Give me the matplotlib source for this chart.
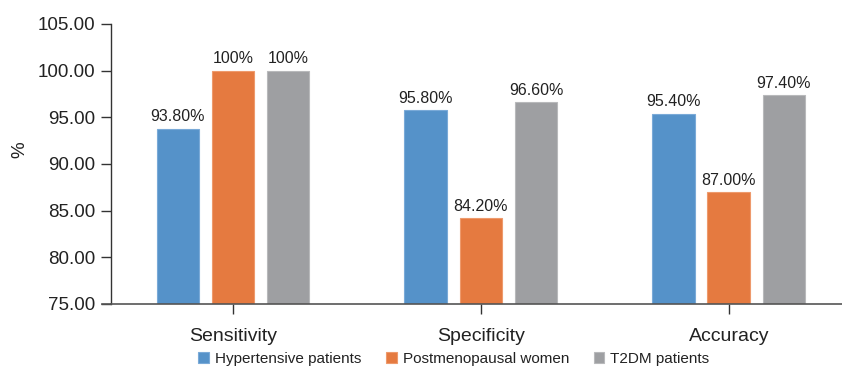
import matplotlib
matplotlib.use("Agg")
import matplotlib.pyplot as plt
import numpy as np
from matplotlib.lines import Line2D

plt.rcParams['font.family'] = ['Liberation Sans', 'DejaVu Sans']

categories = ["Sensitivity", "Specificity", "Accuracy"]
series_names = ["Hypertensive patients", "Postmenopausal women", "T2DM patients"]
hypertensive = [93.80, 95.80, 95.40]
postmenopausal = [100.0, 84.20, 87.00]
t2dm = [100.0, 96.60, 97.40]
label_text = [
    ["93.80%", "95.80%", "95.40%"],
    ["100%", "84.20%", "87.00%"],
    ["100%", "96.60%", "97.40%"],
]
yticks = [75, 80, 85, 90, 95, 100, 105]

colors = ["#5592C9", "#E57A40", "#9E9FA2"]
edges = ["#7AAAD8", "#EE9A6C", "#B8B9BB"]

fig = plt.figure(figsize=(8.42, 3.67), dpi=100)
ax = fig.add_axes([111 / 842, 63 / 367, 1 - 111 / 842, 280 / 367])

x = np.arange(len(categories))
width = 0.173
pitch = 0.222
all_series = [hypertensive, postmenopausal, t2dm]
for i, (vals, name) in enumerate(zip(all_series, series_names)):
    pos = x + (i - 1) * pitch
    bars = ax.bar(pos, vals, width=width, color=colors[i], edgecolor=edges[i],
                  linewidth=0.8, label=name, zorder=2)
    for b, v, t in zip(bars, vals, label_text[i]):
        ax.annotate(t, (b.get_x() + b.get_width() / 2, v), xytext=(0, 3),
                    textcoords="offset points", ha="center", va="bottom",
                    fontsize=11.5, color="#222222")

ax.set_ylim(75, 105)
ax.set_xlim(-0.492, 2.456)
ax.set_yticks(yticks)
ax.set_yticklabels([f"{v:.2f}" for v in yticks], fontsize=13.5, color="#222222")
ax.set_xticks(x)
ax.set_xticklabels(categories, fontsize=14, color="#222222")
ax.tick_params(axis="y", length=7, width=1, color="#333333", pad=4)
ax.tick_params(axis="x", length=7, width=1, color="#333333", pad=10)

# value-axis title
fig.text(20 / 842, 1 - 150 / 367, "%", rotation=90, ha="center", va="center",
         fontsize=13.5, color="#222222")

for s in ["top", "right"]:
    ax.spines[s].set_visible(False)
ax.spines["left"].set_color("#333333")
ax.spines["bottom"].set_color("#555555")
ax.spines["left"].set_linewidth(1)
ax.spines["bottom"].set_linewidth(1.2)

# short extension of the baseline to the left of the value axis
ax.add_line(Line2D([-9 / 731, 0], [0, 0], transform=ax.transAxes,
                   color="#555555", linewidth=1.2, clip_on=False))

handles, labels = ax.get_legend_handles_labels()
fig.legend(handles, labels, loc="center", bbox_to_anchor=(454 / 842, 8 / 367),
           ncol=3, frameon=False, fontsize=11, handlelength=0.7, handleheight=0.7,
           handletextpad=0.4, columnspacing=1.6, labelcolor="#222222")

fig.savefig("out.png", dpi=100)
